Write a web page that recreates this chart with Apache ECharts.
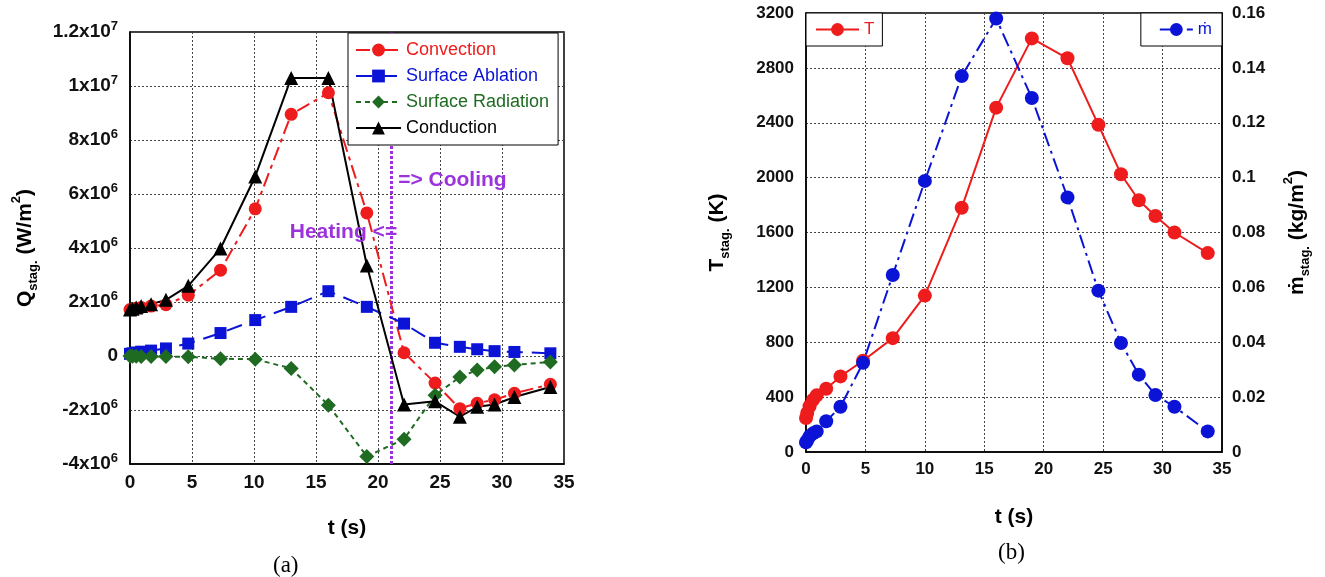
<!DOCTYPE html>
<html>
<head>
<meta charset="utf-8">
<title>Stagnation point heat flux / temperature</title>
<script src="https://cdn.jsdelivr.net/npm/echarts@6/dist/echarts.min.js"></script>
<style>
  html, body { margin: 0; padding: 0; background: #fff; }
  #main { width: 1325px; height: 577px; }
</style>
</head>
<body>
<div id="main"></div>
<script>
// (a) heat fluxes at the stagnation point (W/m2)
const tA = [0, 0.2, 0.5, 0.9, 1.7, 2.9, 4.7, 7.3, 10.1, 13.0, 16.0, 19.1, 22.1, 24.6, 26.6, 28.0, 29.4, 31.0, 33.9];
const convection = [1.72e6, 1.74e6, 1.77e6, 1.8e6, 1.85e6, 1.9e6, 2.25e6, 3.18e6, 5.45e6, 8.95e6, 9.75e6, 5.3e6, 0.12e6, -1.0e6, -1.95e6, -1.75e6, -1.62e6, -1.38e6, -1.05e6];
const ablation = [0.08e6, 0.1e6, 0.13e6, 0.16e6, 0.2e6, 0.28e6, 0.46e6, 0.85e6, 1.33e6, 1.82e6, 2.4e6, 1.82e6, 1.2e6, 0.49e6, 0.34e6, 0.25e6, 0.18e6, 0.15e6, 0.1e6];
const radiation = [0, -0.01e6, -0.01e6, -0.02e6, -0.02e6, -0.02e6, -0.03e6, -0.1e6, -0.12e6, -0.46e6, -1.82e6, -3.72e6, -3.08e6, -1.45e6, -0.78e6, -0.52e6, -0.4e6, -0.33e6, -0.22e6];
const conduction = [1.72e6, 1.75e6, 1.8e6, 1.85e6, 1.92e6, 2.08e6, 2.6e6, 3.98e6, 6.65e6, 1.03e7, 1.03e7, 3.35e6, -1.8e6, -1.68e6, -2.25e6, -1.88e6, -1.8e6, -1.52e6, -1.15e6];
const tSwitch = 21.1; // heating -> cooling

// (b) stagnation temperature (K) and ablation rate (kg/m2)
const tB = [0, 0.1, 0.3, 0.6, 0.9, 1.7, 2.9, 4.8, 7.3, 10.0, 13.1, 16.0, 19.0, 22.0, 24.6, 26.5, 28.0, 29.4, 31.0, 33.8];
const tempStag = [248, 284, 333, 381, 413, 461, 551, 665, 830, 1140, 1780, 2510, 3015, 2870, 2385, 2025, 1835, 1720, 1600, 1450];
const mdotStag = [0.0035, 0.0042, 0.0057, 0.0068, 0.0075, 0.0112, 0.0165, 0.0325, 0.0645, 0.0988, 0.137, 0.158, 0.129, 0.0928, 0.0588, 0.0397, 0.0282, 0.0208, 0.0165, 0.0075];

const RED = '#ee1c1c', BLUE = '#0b14d6', GREEN = '#1f6b22', PURPLE = '#9b32dc';
const FONT = "'Liberation Sans', Arial, sans-serif";

const pairs = (xs, ys) => xs.map((x, i) => [x, ys[i]]);

// 1.2x10^7 style tick labels
function sciLabel(v) {
  if (v === 0) return '{n|0}';
  const e = Math.floor(Math.log10(Math.abs(v)) + 1e-9);
  const m = +(v / Math.pow(10, e)).toFixed(1);
  return '{n|' + m + 'x10}{s|' + e + '}';
}

const tickA = { fontFamily: FONT, fontSize: 19, fontWeight: 'bold', color: '#111' };
const tickB = { fontFamily: FONT, fontSize: 17, fontWeight: 'bold', color: '#111' };
const dotted = { show: true, lineStyle: { color: '#444', type: [2, 2], width: 1 } };
const frame = { show: true, onZero: false, lineStyle: { color: '#000', width: 1.5 } };
const nameRich = {
  b: { fontFamily: FONT, fontSize: 21, fontWeight: 'bold', color: '#000', lineHeight: 30 },
  s: { fontFamily: FONT, fontSize: 13, fontWeight: 'bold', color: '#000', verticalAlign: 'bottom', lineHeight: 30 },
  p: { fontFamily: FONT, fontSize: 13, fontWeight: 'bold', color: '#000', verticalAlign: 'top', lineHeight: 30 }
};
const xName = { fontFamily: FONT, fontSize: 21, fontWeight: 'bold', color: '#000' };

let chart = echarts.init(document.getElementById('main'));
chart.setOption({
  backgroundColor: '#fff',
  animation: false,
  grid: [
    { left: 130, top: 32, width: 434, height: 432, show: true, borderColor: '#000', borderWidth: 1.5 },
    { left: 806, top: 13, width: 416, height: 439, show: true, borderColor: '#000', borderWidth: 1.5 }
  ],
  xAxis: [
    {
      gridIndex: 0, type: 'value', min: 0, max: 35, interval: 5,
      axisLine: frame, axisTick: { show: false }, splitLine: dotted,
      axisLabel: Object.assign({ margin: 9 }, tickA),
      name: 't (s)', nameLocation: 'middle', nameGap: 54, nameTextStyle: xName
    },
    {
      gridIndex: 1, type: 'value', min: 0, max: 35, interval: 5,
      axisLine: frame, axisTick: { show: false }, splitLine: dotted,
      axisLabel: Object.assign({ margin: 9 }, tickB),
      name: 't (s)', nameLocation: 'middle', nameGap: 55, nameTextStyle: xName
    }
  ],
  yAxis: [
    {
      gridIndex: 0, type: 'value', min: -4e6, max: 1.2e7, interval: 2e6,
      axisLine: frame, axisTick: { show: false }, splitLine: dotted,
      axisLabel: {
        margin: 12, formatter: sciLabel,
        rich: {
          n: tickA,
          s: { fontFamily: FONT, fontSize: 13, fontWeight: 'bold', color: '#111', verticalAlign: 'top', lineHeight: 24 }
        }
      },
      name: '{b|Q}{s|stag.}{b| (W/m}{p|2}{b|)}', nameLocation: 'middle', nameGap: 90, nameRotate: 90,
      nameTextStyle: { rich: nameRich }
    },
    {
      gridIndex: 1, type: 'value', min: 0, max: 3200, interval: 400,
      axisLine: frame, axisTick: { show: false }, splitLine: dotted,
      axisLabel: Object.assign({ margin: 12, formatter: v => String(v) }, tickB),
      name: '{b|T}{s|stag.}{b| (K)}', nameLocation: 'middle', nameGap: 74, nameRotate: 90,
      nameTextStyle: { rich: nameRich }
    },
    {
      gridIndex: 1, type: 'value', position: 'right', min: 0, max: 0.16, interval: 0.02,
      axisLine: frame, axisTick: { show: false }, splitLine: { show: false },
      axisLabel: Object.assign({ margin: 10 }, tickB),
      name: '{b|ṁ}{s|stag.}{b| (kg/m}{p|2}{b|)}', nameLocation: 'middle', nameGap: 60, nameRotate: 90,
      nameTextStyle: { rich: nameRich }
    }
  ],
  legend: [
    {
      orient: 'vertical', left: 348, top: 33, z: 20,
      padding: [7, 9, 7, 7], itemGap: 6, itemWidth: 45, itemHeight: 16,
      backgroundColor: '#fff', borderColor: '#000', borderWidth: 1,
      textStyle: { fontFamily: FONT, fontSize: 18, lineHeight: 20 },
      data: [
        { name: 'Convection', textStyle: { color: RED } },
        { name: 'Surface Ablation', textStyle: { color: BLUE } },
        { name: 'Surface Radiation', textStyle: { color: GREEN } },
        { name: 'Conduction', textStyle: { color: '#000' } }
      ]
    },
    {
      left: 806, top: 13, z: 20, padding: [8, 8, 8, 9], itemWidth: 43, itemHeight: 16,
      backgroundColor: '#fff', borderColor: '#000', borderWidth: 1,
      textStyle: { fontFamily: FONT, fontSize: 17, color: RED },
      data: ['T']
    },
    {
      right: 103, top: 13, z: 20, padding: [8, 10, 8, 18], itemWidth: 33, itemHeight: 16,
      backgroundColor: '#fff', borderColor: '#000', borderWidth: 1,
      textStyle: { fontFamily: FONT, fontSize: 17, color: BLUE },
      data: ['ṁ']
    }
  ],
  series: [
    {
      name: 'Convection', type: 'line', xAxisIndex: 0, yAxisIndex: 0,
      data: pairs(tA, convection), symbol: 'circle', symbolSize: 13,
      itemStyle: { color: RED }, lineStyle: { color: RED, width: 2, type: [14, 5, 4, 5] },
      markLine: {
        silent: true, symbol: 'none', label: { show: false }, z: 1,
        lineStyle: { color: PURPLE, width: 3, type: [3, 2] },
        data: [{ xAxis: tSwitch }]
      },
      markPoint: {
        silent: true, symbol: 'circle', symbolSize: 1, itemStyle: { color: 'rgba(0,0,0,0)' },
        label: { show: true, color: PURPLE, fontFamily: FONT, fontSize: 21, fontWeight: 'bold' },
        data: [
          { coord: [tSwitch, 4.6e6], label: { formatter: 'Heating <=', position: 'left', distance: -6 } },
          { coord: [tSwitch, 6.5e6], label: { formatter: '=> Cooling', position: 'right', distance: 6 } }
        ]
      }
    },
    {
      name: 'Surface Ablation', type: 'line', xAxisIndex: 0, yAxisIndex: 0,
      data: pairs(tA, ablation), symbol: 'rect', symbolSize: 12,
      itemStyle: { color: BLUE }, lineStyle: { color: BLUE, width: 2, type: [16, 9] }
    },
    {
      name: 'Surface Radiation', type: 'line', xAxisIndex: 0, yAxisIndex: 0,
      data: pairs(tA, radiation), symbol: 'diamond', symbolSize: 15,
      itemStyle: { color: GREEN }, lineStyle: { color: GREEN, width: 2, type: [5, 4] }
    },
    {
      name: 'Conduction', type: 'line', xAxisIndex: 0, yAxisIndex: 0,
      data: pairs(tA, conduction), symbol: 'triangle', symbolSize: 14,
      itemStyle: { color: '#000' }, lineStyle: { color: '#000', width: 2 }
    },
    {
      name: 'T', type: 'line', xAxisIndex: 1, yAxisIndex: 1,
      data: pairs(tB, tempStag), symbol: 'circle', symbolSize: 14,
      itemStyle: { color: RED }, lineStyle: { color: RED, width: 2 }
    },
    {
      name: 'ṁ', type: 'line', xAxisIndex: 1, yAxisIndex: 2,
      data: pairs(tB, mdotStag), symbol: 'circle', symbolSize: 14,
      itemStyle: { color: BLUE }, lineStyle: { color: BLUE, width: 2, type: [14, 5, 3, 5] }
    }
  ],
  graphic: [
    { type: 'text', left: 273, top: 554, style: { text: '(a)', font: "23px 'Liberation Serif', 'Times New Roman', serif", fill: '#000' } },
    { type: 'text', left: 998, top: 541, style: { text: '(b)', font: "23px 'Liberation Serif', 'Times New Roman', serif", fill: '#000' } }
  ]
});
</script>
</body>
</html>
